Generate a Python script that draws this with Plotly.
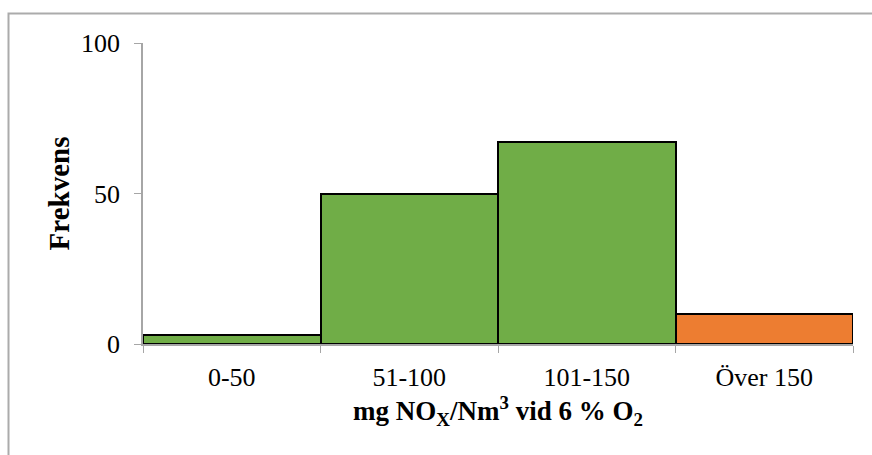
import plotly.graph_objects as go

# Frequency of NOx emission levels per class
categories = ["0-50", "51-100", "101-150", "Över 150"]
frequencies = [3, 50, 67, 10]
bar_colors = ["#70AD47", "#70AD47", "#70AD47", "#ED7D31"]
y_ticks = [0, 50, 100]

FONT = "Liberation Serif, Times New Roman, serif"
AXIS_GRAY = "#A6A6A6"

fig = go.Figure(
    go.Bar(
        x=categories,
        y=frequencies,
        marker=dict(color=bar_colors, line=dict(color="black", width=2)),
        width=1,
    )
)

fig.update_layout(
    width=872,
    height=455,
    margin=dict(l=143, r=19, t=43, b=111),
    paper_bgcolor="white",
    plot_bgcolor="white",
    bargap=0,
    showlegend=False,
    font=dict(family=FONT, size=26, color="black"),
    shapes=[
        # outer chart frame
        dict(
            type="rect", xref="paper", yref="paper",
            x0=(8.5 - 143) / 710, x1=1.5,
            y0=-1.0, y1=1 + (43 - 13.5) / 301,
            line=dict(color="#ABABAB", width=2),
            layer="below",
        )
    ],
)

fig.update_xaxes(
    type="category",
    range=[-0.5, 3.5],
    tickson="boundaries",
    ticks="outside",
    ticklen=7,
    tickcolor=AXIS_GRAY,
    showline=True,
    linecolor=AXIS_GRAY,
    linewidth=1.5,
    showgrid=False,
    tickfont=dict(family=FONT, size=26),
    ticklabelstandoff=9,
    title=dict(
        text="<b>mg NO<sub>X</sub>/Nm<sup>3</sup> vid 6 % O<sub>2</sub></b>",
        font=dict(family=FONT, size=27),
        standoff=10,
    ),
)

fig.update_yaxes(
    range=[0, 100],
    tickvals=y_ticks,
    ticks="outside",
    ticklen=7,
    tickcolor=AXIS_GRAY,
    showline=True,
    linecolor=AXIS_GRAY,
    linewidth=1.5,
    showgrid=False,
    zeroline=False,
    tickfont=dict(family=FONT, size=26),
    ticklabelstandoff=9,
    title=dict(text="<b>Frekvens</b>", font=dict(family=FONT, size=29), standoff=3),
)

fig.write_html("out.html")
